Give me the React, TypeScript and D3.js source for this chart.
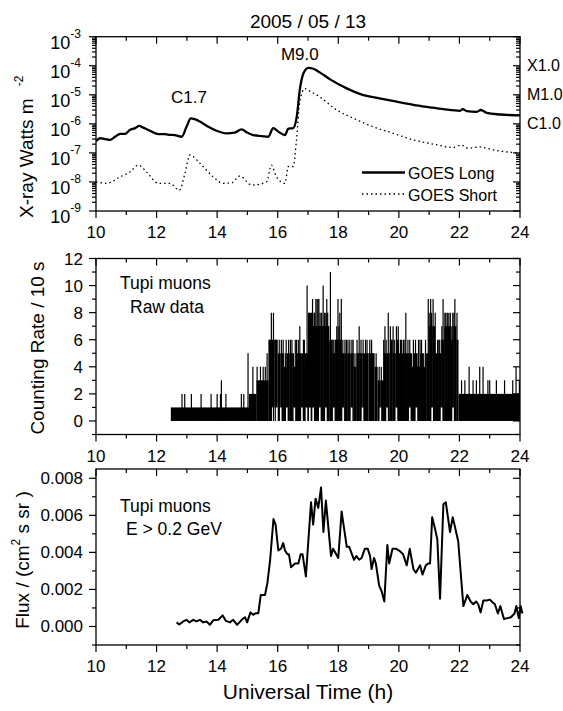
import React from "react";
import * as d3 from "d3";

const FONT = "'Liberation Sans', Arial, Helvetica, sans-serif";
const W = 563;
const H = 711;

// ---------- Panel 1: GOES X-ray flux (W m^-2) ----------
const goesLongHour = [10.0, 10.13, 10.3, 10.46, 10.63, 10.8, 10.96, 11.12, 11.29, 11.43, 11.56, 11.78, 12.06, 12.28, 12.44, 12.6, 12.83, 12.99, 13.13, 13.26, 13.49, 13.71, 13.98, 14.31, 14.58, 14.81, 14.97, 15.19, 15.47, 15.69, 15.85, 16.02, 16.24, 16.35, 16.51, 16.63, 16.73, 16.85, 17.01, 17.18, 17.4, 17.73, 18.28, 18.83, 19.36, 19.93, 20.48, 21.03, 21.47, 22.02, 22.11, 22.24, 22.57, 22.71, 22.9, 23.34, 24.0];
const goesLongFlux = [2.5e-7, 3.2e-7, 3.0e-7, 2.8e-7, 3.6e-7, 4.5e-7, 4.5e-7, 6.2e-7, 7.1e-7, 8.5e-7, 7.4e-7, 5.8e-7, 4.4e-7, 4.4e-7, 4.2e-7, 4.1e-7, 3.6e-7, 7.9e-7, 1.55e-6, 1.45e-6, 1.1e-6, 7.9e-7, 5.8e-7, 4.7e-7, 5.0e-7, 6.5e-7, 5.1e-7, 4.1e-7, 3.8e-7, 3.6e-7, 7.1e-7, 5.4e-7, 4.1e-7, 6.8e-7, 7.1e-7, 1.8e-6, 1.5e-5, 5.5e-5, 8.5e-5, 7.9e-5, 5.8e-5, 3.4e-5, 1.66e-5, 9.8e-6, 7.6e-6, 5.8e-6, 4.5e-6, 3.7e-6, 3.2e-6, 2.8e-6, 3.2e-6, 2.75e-6, 2.6e-6, 3.0e-6, 2.4e-6, 2.1e-6, 1.95e-6];

const goesShortHour = [10.0, 10.35, 10.8, 11.12, 11.4, 11.67, 12.06, 12.44, 12.75, 12.94, 13.1, 13.43, 13.87, 14.2, 14.48, 14.75, 15.14, 15.63, 15.79, 15.96, 16.24, 16.35, 16.51, 16.62, 16.73, 16.9, 16.95, 17.39, 17.95, 18.5, 19.16, 19.82, 20.48, 21.14, 21.8, 22.07, 22.29, 22.67, 23.12, 24.0];
const goesShortFlux = [1.0e-8, 9e-9, 1.5e-8, 2.2e-8, 3.8e-8, 2.2e-8, 9e-9, 9e-9, 5.2e-9, 2.0e-8, 8.5e-8, 4.4e-8, 1.5e-8, 9e-9, 9.3e-9, 1.6e-8, 7.8e-9, 1.0e-8, 3.8e-8, 1.5e-8, 9e-9, 3.4e-8, 3.4e-8, 2.8e-7, 5.8e-6, 1.66e-5, 1.55e-5, 8.5e-6, 3.0e-6, 1.55e-6, 7.9e-7, 4.7e-7, 2.8e-7, 2.0e-7, 1.55e-7, 1.85e-7, 1.45e-7, 1.6e-7, 1.26e-7, 9.8e-8];

const flareNames = ["C1.7", "M9.0"];
const flareHour = [13.07, 16.73];
const flareFlux = [5.2e-6, 1.6e-4];

const goesClassNames = ["X1.0", "M1.0", "C1.0"];
const goesClassFlux = [1e-4, 1e-5, 1e-6];

const legendNames = ["GOES Long", "GOES Short"];

// ---------- Panel 2: Tupi raw counting rate (per 10 s) ----------
// dense band of counts: start hour, end hour, lowest and highest count in the band
const rawSegStart = [12.47, 15.05, 15.3, 15.7, 15.8, 15.9, 16.0, 16.1, 16.2, 16.3, 16.4, 16.5, 16.6, 16.7, 16.8, 16.9, 17.0, 17.1, 17.2, 17.3, 17.4, 17.5, 17.6, 17.7, 17.8, 17.9, 18.0, 18.1, 18.2, 18.3, 18.4, 18.5, 18.6, 18.7, 18.8, 18.9, 19.0, 19.1, 19.2, 19.3, 19.4, 19.5, 19.6, 19.7, 19.8, 19.9, 20.0, 20.1, 20.2, 20.3, 20.4, 20.5, 20.6, 20.7, 20.8, 20.9, 21.0, 21.1, 21.2, 21.3, 21.4, 21.5, 21.6, 21.7, 21.8, 21.9, 21.97];
const rawSegEnd = [15.05, 15.3, 15.7, 15.8, 15.9, 16.0, 16.1, 16.2, 16.3, 16.4, 16.5, 16.6, 16.7, 16.8, 16.9, 17.0, 17.1, 17.2, 17.3, 17.4, 17.5, 17.6, 17.7, 17.8, 17.9, 18.0, 18.1, 18.2, 18.3, 18.4, 18.5, 18.6, 18.7, 18.8, 18.9, 19.0, 19.1, 19.2, 19.3, 19.4, 19.5, 19.6, 19.7, 19.8, 19.9, 20.0, 20.1, 20.2, 20.3, 20.4, 20.5, 20.6, 20.7, 20.8, 20.9, 21.0, 21.1, 21.2, 21.3, 21.4, 21.5, 21.6, 21.7, 21.8, 21.9, 21.97, 24.0];
const rawSegLow = [0, 0, 0, 0, 1, 1, 0, 0, 0, 0, 0, 0, 0, 0, 0, 0, 0, 0, 0, 0, 0, 0, 0, 0, 0, 0, 0, 0, 0, 0, 0, 0, 0, 0, 0, 0, 0, 0, 0, 0, 0, 0, 0, 0, 0, 0, 0, 0, 0, 0, 0, 0, 0, 0, 0, 0, 0, 0, 0, 0, 0, 0, 0, 0, 0, 0, 0];
const rawSegHigh = [1, 2, 3, 6, 6, 6, 5, 5, 4, 5, 5, 4, 5, 5, 4, 5, 7, 7, 7, 7, 7, 7, 7, 6, 5, 6, 6, 5, 5, 5, 5, 4, 5, 5, 5, 5, 5, 5, 4, 3, 3, 5, 5, 6, 5, 6, 5, 5, 5, 5, 4, 5, 4, 5, 4, 5, 7, 7, 5, 5, 6, 7, 7, 6, 7, 6, 2];

// isolated 10-s readings above the dense band
const rawSpikeHour = [12.84, 12.93, 13.15, 13.47, 13.8, 14.0, 14.11, 14.14, 14.29, 14.8, 14.88, 15.02, 15.1, 15.18, 15.32, 15.43, 15.52, 15.59, 15.65, 15.72, 15.79, 15.86, 15.92, 16.05, 16.12, 16.18, 16.25, 16.28, 16.36, 16.42, 16.47, 16.52, 16.58, 16.62, 16.68, 16.73, 16.82, 16.85, 16.88, 16.97, 17.02, 17.05, 17.08, 17.12, 17.15, 17.2, 17.22, 17.26, 17.3, 17.33, 17.36, 17.4, 17.45, 17.5, 17.55, 17.59, 17.62, 17.65, 17.68, 17.74, 17.8, 17.85, 17.9, 17.95, 17.99, 18.02, 18.05, 18.1, 18.15, 18.22, 18.27, 18.32, 18.38, 18.45, 18.49, 18.55, 18.62, 18.69, 18.75, 18.82, 18.9, 18.95, 19.04, 19.1, 19.15, 19.25, 19.35, 19.42, 19.5, 19.54, 19.58, 19.65, 19.72, 19.75, 19.81, 19.85, 19.92, 19.98, 20.05, 20.09, 20.15, 20.2, 20.23, 20.3, 20.36, 20.42, 20.48, 20.55, 20.6, 20.65, 20.7, 20.75, 20.82, 20.88, 20.97, 21.0, 21.05, 21.08, 21.13, 21.18, 21.2, 21.28, 21.32, 21.35, 21.42, 21.46, 21.52, 21.55, 21.6, 21.65, 21.7, 21.75, 21.78, 21.82, 21.85, 21.92, 22.07, 22.18, 22.32, 22.45, 22.56, 22.67, 22.78, 22.94, 23.0, 23.22, 23.49, 23.76, 23.87, 23.98];
const rawSpikeValue = [2, 2, 2, 2, 2, 2, 2, 3, 2, 2, 2, 5, 2, 4, 4, 4, 4, 4, 5, 6, 8, 8, 6, 6, 6, 6, 5, 6, 6, 6, 6, 5, 6, 6, 6, 7, 5, 6, 6, 10, 8, 8, 8, 8, 9, 8, 8, 9, 9, 9, 9, 8, 8, 10, 8, 8, 9, 8, 7, 11, 6, 6, 6, 7, 9, 7, 8, 9, 6, 6, 6, 6, 6, 6, 6, 5, 6, 7, 6, 6, 6, 6, 6, 6, 5, 5, 4, 4, 6, 7, 6, 8, 7, 6, 7, 6, 7, 7, 6, 6, 6, 6, 8, 6, 6, 5, 6, 6, 5, 6, 6, 6, 5, 6, 9, 8, 9, 8, 9, 6, 8, 6, 6, 6, 7, 9, 8, 8, 8, 8, 8, 7, 8, 8, 9, 8, 3, 3, 4, 3, 3, 4, 4, 3, 3, 3, 3, 3, 4, 3];

// short breaks where the count fell back to zero below the band
const rawGapHour = [16.1, 16.3, 16.55, 16.8, 16.95, 17.06, 17.17, 17.39, 17.59, 17.85, 18.16, 18.44, 18.8, 19.39, 19.61, 19.92, 20.36, 20.58, 21.1, 21.41, 21.79];

// ---------- Panel 3: Tupi muon flux ----------
const fluxHour = [12.66, 12.75, 12.88, 12.99, 13.08, 13.21, 13.32, 13.43, 13.54, 13.65, 13.76, 13.87, 14.04, 14.18, 14.29, 14.42, 14.53, 14.66, 14.81, 14.92, 14.99, 15.1, 15.19, 15.28, 15.36, 15.44, 15.58, 15.66, 15.75, 15.86, 15.93, 16.02, 16.11, 16.18, 16.24, 16.32, 16.37, 16.44, 16.57, 16.68, 16.76, 16.82, 16.93, 17.1, 17.17, 17.25, 17.34, 17.43, 17.51, 17.59, 17.76, 17.83, 18.0, 18.11, 18.28, 18.36, 18.52, 18.6, 18.69, 18.77, 18.88, 18.97, 19.05, 19.1, 19.18, 19.24, 19.35, 19.43, 19.52, 19.62, 19.68, 19.79, 19.9, 20.01, 20.14, 20.26, 20.36, 20.48, 20.56, 20.7, 20.78, 20.89, 20.97, 21.03, 21.1, 21.19, 21.27, 21.36, 21.47, 21.55, 21.69, 21.78, 21.85, 21.96, 22.13, 22.26, 22.37, 22.46, 22.55, 22.62, 22.7, 22.79, 22.9, 23.0, 23.1, 23.17, 23.27, 23.35, 23.47, 23.59, 23.7, 23.82, 23.88, 23.96, 24.02, 24.08];
const fluxValue = [0.00022, 0.00011, 0.00027, 0.00036, 0.00022, 0.00036, 0.00027, 0.00036, 0.00022, 0.00027, 0.00009, 0.00033, 0.00036, 0.0006, 0.0003, 0.00022, 0.00036, 0.00009, 0.00036, 0.0005, 0.00022, 0.00076, 0.00063, 0.00072, 0.00072, 0.0017, 0.0017, 0.00235, 0.0036, 0.0058, 0.0055, 0.0041, 0.0042, 0.0045, 0.0041, 0.0039, 0.0039, 0.0032, 0.0034, 0.0034, 0.0039, 0.0039, 0.0027, 0.0067, 0.0055, 0.0069, 0.0064, 0.0075, 0.0051, 0.0068, 0.0038, 0.0042, 0.0037, 0.0062, 0.0043, 0.0043, 0.0036, 0.0038, 0.0036, 0.0037, 0.0042, 0.0042, 0.0038, 0.0031, 0.0037, 0.0034, 0.0022, 0.0019, 0.00135, 0.0044, 0.0034, 0.0042, 0.0042, 0.0041, 0.0039, 0.0033, 0.0042, 0.0031, 0.0029, 0.0033, 0.0028, 0.0033, 0.0034, 0.0034, 0.0059, 0.0053, 0.0047, 0.0015, 0.0066, 0.0067, 0.0051, 0.0059, 0.0054, 0.0046, 0.0011, 0.0017, 0.00135, 0.0012, 0.00135, 0.0012, 0.00076, 0.0014, 0.0014, 0.00145, 0.0013, 0.0012, 0.0007, 0.0011, 0.0004, 0.00045, 0.0005, 0.0007, 0.0011, 0.00045, 0.0011, 0.0007];

// ---------- Axes ----------
const hourMajor = [10, 12, 14, 16, 18, 20, 22, 24];
const hourMinor = [11, 13, 15, 17, 19, 21, 23];
const logExponents = [-9, -8, -7, -6, -5, -4, -3];
const countMajor = [0, 2, 4, 6, 8, 10, 12];
const countMinor = [-1, 1, 3, 5, 7, 9, 11];
const fluxMajor = [0, 0.002, 0.004, 0.006, 0.008];
const fluxMinor = [-0.001, 0.001, 0.003, 0.005, 0.007];

const LEFT = 96;
const RIGHT = 520;
const P1 = { top: 36.7, bottom: 211 };
const P2 = { top: 258.5, bottom: 434.5 };
const P3 = { top: 469, bottom: 645 };

const MAJ = 7;
const MIN = 4;

const x = d3.scaleLinear().domain([10, 24]).range([LEFT, RIGHT]);
const y1 = d3.scaleLog().domain([1e-9, 1e-3]).range([P1.bottom, P1.top]);
const y2 = d3.scaleLinear().domain([-1, 12]).range([P2.bottom, P2.top]);
const y3 = d3.scaleLinear().domain([-0.001, 0.0085]).range([P3.bottom, P3.top]);

function XTicks({ top, bottom, labels }: { top: number; bottom: number; labels: boolean }) {
  return (
    <g stroke="#000" strokeWidth={1.2}>
      {hourMajor.map((h) => (
        <g key={"M" + h}>
          <line x1={x(h)} x2={x(h)} y1={bottom} y2={bottom + MAJ} />
          <line x1={x(h)} x2={x(h)} y1={top} y2={top + MAJ} />
        </g>
      ))}
      {hourMinor.map((h) => (
        <g key={"m" + h}>
          <line x1={x(h)} x2={x(h)} y1={bottom} y2={bottom + MIN} />
          <line x1={x(h)} x2={x(h)} y1={top} y2={top + MIN} />
        </g>
      ))}
      {labels &&
        hourMajor.map((h) => (
          <text key={"t" + h} x={x(h)} y={bottom + 27} textAnchor="middle" stroke="none" fill="#000" fontSize={17}>
            {h}
          </text>
        ))}
    </g>
  );
}

function YTicks({ scale, major, minor }: { scale: (v: number) => number; major: number[]; minor: number[] }) {
  return (
    <g stroke="#000" strokeWidth={1.2}>
      {major.map((v, i) => (
        <g key={"M" + i}>
          <line x1={LEFT - MAJ} x2={LEFT} y1={scale(v)} y2={scale(v)} />
          <line x1={RIGHT - MAJ} x2={RIGHT} y1={scale(v)} y2={scale(v)} />
        </g>
      ))}
      {minor.map((v, i) => (
        <g key={"m" + i}>
          <line x1={LEFT - MIN} x2={LEFT} y1={scale(v)} y2={scale(v)} />
          <line x1={RIGHT - MIN} x2={RIGHT} y1={scale(v)} y2={scale(v)} />
        </g>
      ))}
    </g>
  );
}

export default function App() {
  const longData = goesLongHour.map((h, i) => [h, goesLongFlux[i]] as [number, number]);
  const shortData = goesShortHour.map((h, i) => [h, goesShortFlux[i]] as [number, number]);
  const fluxData = fluxHour.map((h, i) => [h, fluxValue[i]] as [number, number]);

  const line1 = d3
    .line<[number, number]>()
    .x((d) => x(d[0]))
    .y((d) => y1(d[1]))
    .curve(d3.curveMonotoneX);
  const line3 = d3
    .line<[number, number]>()
    .x((d) => x(d[0]))
    .y((d) => y3(d[1]));

  const logMinor: number[] = [];
  logExponents.slice(0, -1).forEach((e) => {
    for (let k = 2; k <= 9; k++) logMinor.push(k * Math.pow(10, e));
  });
  const logMajor = logExponents.map((e) => Math.pow(10, e));

  return (
    <svg
      width={W}
      height={H}
      viewBox={`0 0 ${W} ${H}`}
      style={{ position: "absolute", left: 0, top: 0, background: "#fff" }}
      fontFamily={FONT}
    >
      <rect x={0} y={0} width={W} height={H} fill="#fff" />

      {/* Title */}
      <text x={(LEFT + RIGHT) / 2} y={28} textAnchor="middle" fontSize={19}>
        2005 / 05 / 13
      </text>

      {/* ---------- Panel 1 ---------- */}
      <defs>
        <clipPath id="clip1">
          <rect x={LEFT} y={P1.top} width={RIGHT - LEFT} height={P1.bottom - P1.top} />
        </clipPath>
        <clipPath id="clip2">
          <rect x={LEFT} y={P2.top} width={RIGHT - LEFT} height={P2.bottom - P2.top} />
        </clipPath>
      </defs>
      <g clipPath="url(#clip1)">
        <path d={line1(shortData) || ""} fill="none" stroke="#000" strokeWidth={1.3} strokeDasharray="1.5,3" />
        <path d={line1(longData) || ""} fill="none" stroke="#000" strokeWidth={2.3} />
      </g>
      <rect x={LEFT} y={P1.top} width={RIGHT - LEFT} height={P1.bottom - P1.top} fill="none" stroke="#000" strokeWidth={1.3} />
      <XTicks top={P1.top} bottom={P1.bottom} labels={true} />
      <YTicks scale={(v) => y1(v)} major={logMajor} minor={logMinor} />
      {logExponents.map((e) => (
        <text key={e} x={81} y={y1(Math.pow(10, e)) + 12} textAnchor="end" fontSize={18}>
          10
          <tspan dy={-11} fontSize={12}>
            {e}
          </tspan>
        </text>
      ))}
      {goesClassNames.map((n, i) => (
        <text key={n} x={RIGHT + 7} y={y1(goesClassFlux[i]) + 5.5} fontSize={16}>
          {n}
        </text>
      ))}
      {flareNames.map((n, i) => (
        <text key={n} x={x(flareHour[i])} y={y1(flareFlux[i])} textAnchor="middle" fontSize={17}>
          {n}
        </text>
      ))}
      {/* legend */}
      <line x1={362} x2={405} y1={172.5} y2={172.5} stroke="#000" strokeWidth={2.3} />
      <text x={408} y={179} fontSize={16}>{legendNames[0]}</text>
      <line x1={362} x2={405} y1={194} y2={194} stroke="#000" strokeWidth={1.3} strokeDasharray="1.5,3" />
      <text x={408} y={201} fontSize={16}>{legendNames[1]}</text>
      <text transform={`translate(33,218) rotate(-90)`} fontSize={19}>
        X-ray Watts m
        <tspan dx={12} dy={-10} fontSize={12}>
          -2
        </tspan>
      </text>

      {/* ---------- Panel 2 ---------- */}
      <g clipPath="url(#clip2)">
        {rawSegStart.map((s, i) => (
          <rect
            key={"seg" + i}
            x={x(s)}
            width={x(rawSegEnd[i]) - x(s)}
            y={y2(rawSegHigh[i])}
            height={y2(rawSegLow[i]) - y2(rawSegHigh[i])}
            fill="#000"
          />
        ))}
        {rawSpikeHour.map((h, i) => (
          <line key={"sp" + i} x1={x(h)} x2={x(h)} y1={y2(0)} y2={y2(rawSpikeValue[i])} stroke="#000" strokeWidth={1.2} />
        ))}
        {rawGapHour.map((h, i) => (
          <line key={"gp" + i} x1={x(h)} x2={x(h)} y1={y2(0) + 0.5} y2={y2(1)} stroke="#fff" strokeWidth={1.6} />
        ))}
      </g>
      <rect x={LEFT} y={P2.top} width={RIGHT - LEFT} height={P2.bottom - P2.top} fill="none" stroke="#000" strokeWidth={1.3} />
      <XTicks top={P2.top} bottom={P2.bottom} labels={true} />
      <YTicks scale={(v) => y2(v)} major={countMajor} minor={countMinor} />
      {countMajor.map((v) => (
        <text key={v} x={83} y={y2(v) + 6} textAnchor="end" fontSize={17}>
          {v}
        </text>
      ))}
      <text x={120} y={289} fontSize={17.5}>Tupi muons</text>
      <text x={130} y={313} fontSize={17.5}>Raw data</text>
      <text transform={`translate(44,348) rotate(-90)`} textAnchor="middle" fontSize={19}>
        Counting Rate / 10 s
      </text>

      {/* ---------- Panel 3 ---------- */}
      <path d={line3(fluxData) || ""} fill="none" stroke="#000" strokeWidth={2} strokeLinejoin="round" />
      <rect x={LEFT} y={P3.top} width={RIGHT - LEFT} height={P3.bottom - P3.top} fill="none" stroke="#000" strokeWidth={1.3} />
      <XTicks top={P3.top} bottom={P3.bottom} labels={true} />
      <YTicks scale={(v) => y3(v)} major={fluxMajor} minor={fluxMinor} />
      {fluxMajor.map((v) => (
        <text key={v} x={83} y={y3(v) + 6} textAnchor="end" fontSize={17}>
          {d3.format(".3f")(v)}
        </text>
      ))}
      <text x={120} y={512} fontSize={17.5}>Tupi muons</text>
      <text x={126} y={535} fontSize={17.5}>E &gt; 0.2 GeV</text>
      <text transform={`translate(29,560) rotate(-90)`} textAnchor="middle" fontSize={19}>
        Flux / (cm
        <tspan dy={-9} fontSize={12}>
          2
        </tspan>
        <tspan dy={9}> s sr )</tspan>
      </text>

      <text x={(LEFT + RIGHT) / 2} y={699} textAnchor="middle" fontSize={21}>
        Universal Time (h)
      </text>
    </svg>
  );
}
